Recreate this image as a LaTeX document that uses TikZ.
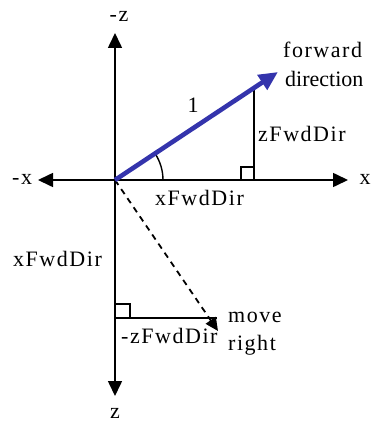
\documentclass[tikz,border=0pt]{standalone}
\usepackage{fontspec}
\setmainfont{Liberation Serif}[LetterSpace=7]
\usetikzlibrary{arrows.meta}
\definecolor{vecblue}{RGB}{52,52,172}
\tikzset{
  axis/.style={line width=1.6pt, {Triangle[length=15pt,width=14pt]}-{Triangle[length=15pt,width=14pt]}},
  thin line/.style={line width=1.4pt},
  fwd/.style={line width=4.6pt, vecblue, -{Triangle[length=19pt,width=17pt]}},
  mv/.style={line width=1.8pt, dash pattern=on 6pt off 5pt, -{Triangle[length=13pt,width=12pt]}},
  lbl/.style={inner sep=0pt, font=\fontsize{22pt}{26pt}\selectfont},
}
\begin{document}
\begin{tikzpicture}[x=1pt,y=-1pt]
\useasboundingbox (0,0) rectangle (371,422);
\coordinate (O) at (115,180);
\coordinate (T) at (115,33);
\coordinate (B) at (115,396);
\coordinate (L) at (38,180);
\coordinate (R) at (348,180);
\coordinate (F) at (278,72);
\coordinate (P) at (254,88);
\coordinate (Q) at (254,180);
\coordinate (M) at (218,331);
\coordinate (H) at (115,318);
\coordinate (HE) at (217,318);
% axes
\draw[axis] (T) -- (B);
\draw[axis] (L) -- (R);
% forward component
\draw[thin line] (P) -- (Q);
\draw[thin line] (241,167) rectangle (Q);
% angle arc
\draw[thin line] (O) ++(0:48pt) arc[start angle=0,end angle=33.5,radius=48pt];
% move right
\draw[thin line] (H) -- (HE);
\draw[thin line] (H) rectangle (130,304);
\draw[mv] (O) -- (M);
% forward vector
\draw[fwd] (O) -- (F);
% labels
\node[lbl, anchor=base] (mz) at (119,22) {-z};
\node[lbl, anchor=base] (pz) at (115,418) {z};
\node[lbl, anchor=base west] (mx) at (12,184) {-x};
\node[lbl, anchor=base] (px) at (365,184) {x};
\node[lbl, anchor=base west] (fw1) at (283,58) {forward};
\node[lbl, anchor=base west] (fw2) at (285,87) {\addfontfeature{LetterSpace=0}direction};
\node[lbl, anchor=base] (one) at (193,113) {1};
\node[lbl, anchor=base west] (zf) at (258,142) {zFwdDir};
\node[lbl, anchor=base west] (xf) at (155,205) {xFwdDir};
\node[lbl, anchor=base west] (xf2) at (13,266) {xFwdDir};
\node[lbl, anchor=base west] (mzf) at (121,343) {-zFwdDir};
\node[lbl, anchor=base west] (mv1) at (228,322) {move};
\node[lbl, anchor=base west] (mv2) at (228,350) {right};
\end{tikzpicture}
\end{document}
